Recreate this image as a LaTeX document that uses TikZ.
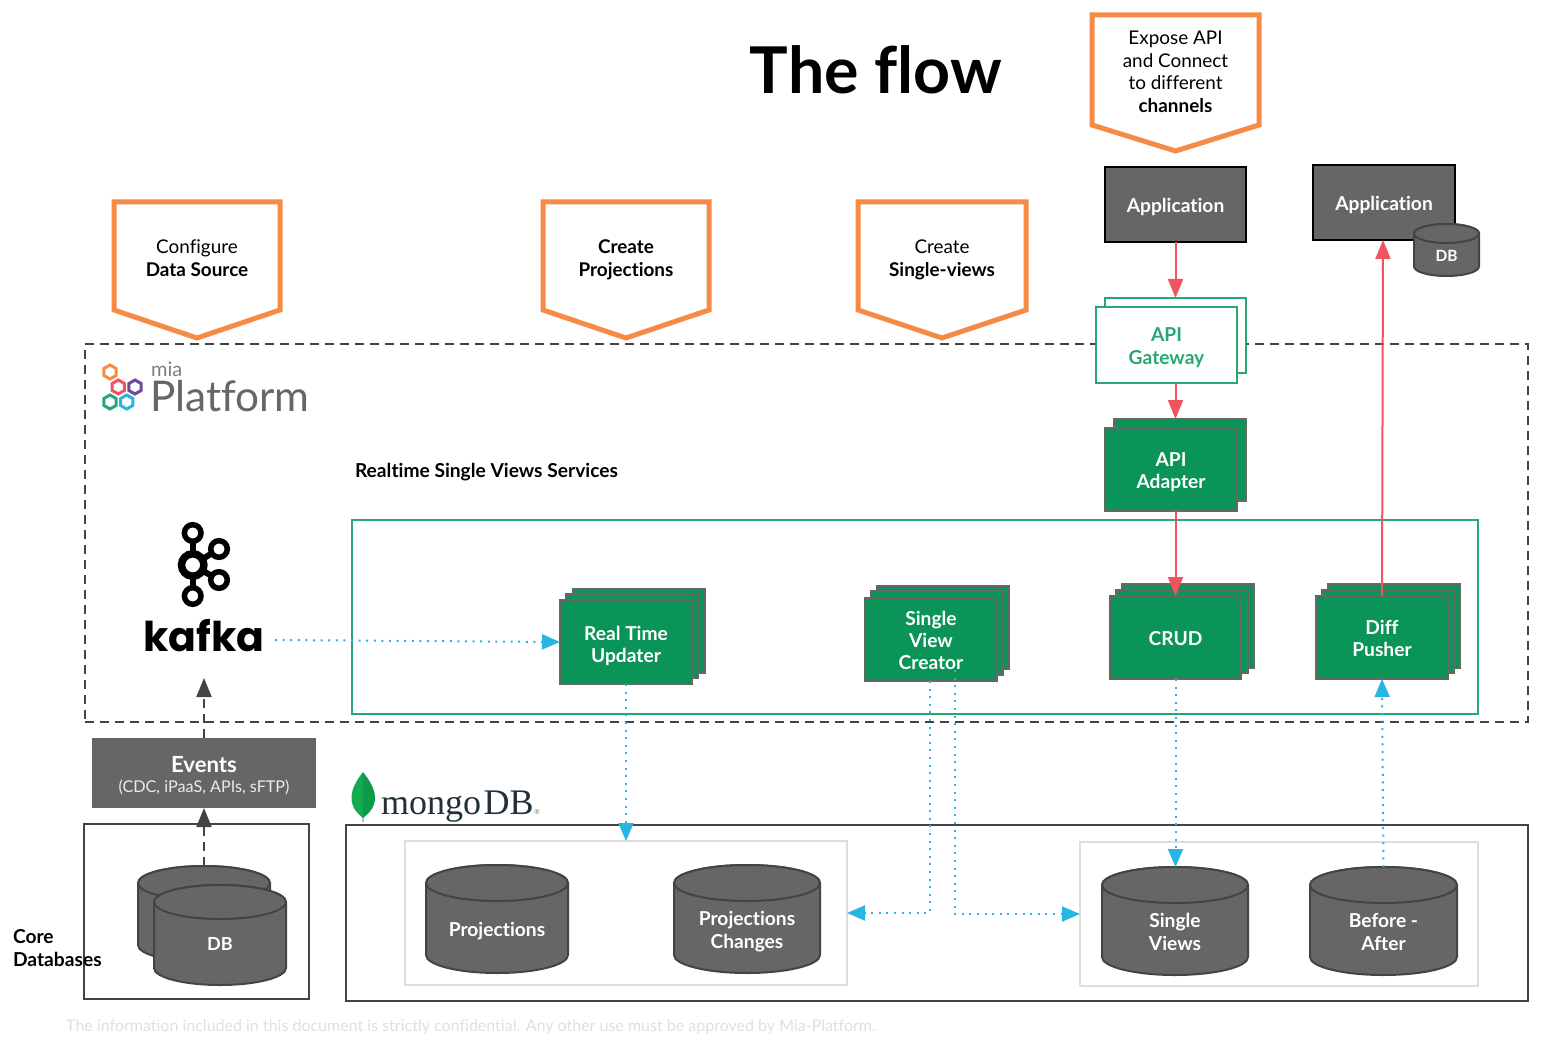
\documentclass[tikz,border=0pt]{standalone}
\usepackage{fontspec}
\setmainfont{Lato}[Ligatures=NoCommon]
\usetikzlibrary{arrows.meta,calc}
\definecolor{orangeC}{HTML}{F68B47}
\definecolor{greyFill}{HTML}{666666}
\definecolor{greyLine}{HTML}{444444}
\definecolor{greenFill}{HTML}{0A9457}
\definecolor{greenLine}{HTML}{27A873}
\definecolor{redC}{HTML}{EF5560}
\definecolor{cyanC}{HTML}{29B5E3}
\definecolor{softLine}{HTML}{DDDDDD}
\definecolor{stackLine}{HTML}{666666}
\definecolor{purpleC}{HTML}{6B4C9A}
\definecolor{leafL}{HTML}{13AA52}
\definecolor{leafD}{HTML}{0F9A49}
\definecolor{mongoC}{HTML}{21313C}
\newcommand{\btf}{\fontsize{19.2}{22.4}\selectfont\bfseries}
\newcommand{\rtf}{\fontsize{18.9}{22.4}\selectfont}
\newcommand{\strutTop}{\rule{0pt}{20pt}}
\newcommand{\strutBot}{\rule[-4pt]{0pt}{4pt}}
\tikzset{
 txt/.style={inner sep=0,outer sep=0,align=center,font=\rtf},
 btxt/.style={txt,font=\btf},
 wtxt/.style={btxt,text=white},
 rbox/.style={inner sep=0,outer sep=0,align=center},
 appbox/.style={rbox,draw=black,line width=2pt,fill=greyFill,text=white,font=\btf},
 green stack/.style={rbox,draw=stackLine,line width=2.4pt,fill=greenFill,text=white,font=\btf},
 gate stack/.style={rbox,draw=greenLine,line width=2pt,fill=white,text=greenLine,font=\btf},
 soft box/.style={rbox,draw=softLine,line width=2pt},
 dark box/.style={rbox,draw=greyLine,line width=2pt},
 cyl/.style={draw=greyLine,line width=2pt,fill=greyFill},
 callout/.style={draw=orangeC,line width=5pt,fill=white,miter limit=10},
 red arrow/.style={draw=redC,line width=2pt,-{Triangle[length=19pt,width=15pt,fill=redC]}},
 cyan arrow/.style={draw=cyanC,line width=2pt,dash pattern=on 2pt off 5.6pt,-{Triangle[length=18pt,width=15pt,fill=cyanC]}},
 dash arrow/.style={draw=greyLine,line width=2.2pt,dash pattern=on 9pt off 6pt,-{Triangle[length=19pt,width=15pt,fill=greyLine]}},
 hexa/.style={line width=3pt,fill=none},
 kafka ring/.style={draw=black,fill=white},
}
% \rnode[style]{name}{x1}{y1}{x2}{y2}{text}
\newcommand{\rnode}[7][]{%
 \pgfmathsetmacro{\rw}{#5-#3}\pgfmathsetmacro{\rh}{#6-#4}%
 \pgfmathsetmacro{\rcx}{(#3+#5)/2}\pgfmathsetmacro{\rcy}{(#4+#6)/2}%
 \node[#1,minimum width=\rw pt,minimum height=\rh pt] (#2) at (\rcx,\rcy) {\strutTop#7\strutBot};}
% \cylnode{name}{x1}{y1}{x2}{y2}{ry}{label y}{text}
\newcommand{\cylnode}[8]{%
 \pgfmathsetmacro{\crx}{(#4-#2)/2}\pgfmathsetmacro{\ctop}{#3+#6}\pgfmathsetmacro{\cbot}{#5-#6}%
 \pgfmathsetmacro{\ccx}{(#2+#4)/2}\pgfmathsetmacro{\ccy}{(#3+#5)/2}\pgfmathsetmacro{\cw}{#4-#2}\pgfmathsetmacro{\ch}{#5-#3}%
 \draw[cyl] (#2,\ctop) -- (#2,\cbot) arc[start angle=180,end angle=360,x radius=\crx pt,y radius=#6 pt] -- (#4,\ctop) arc[start angle=0,end angle=180,x radius=\crx pt,y radius=#6 pt] -- cycle;
 \draw[cyl] (\ccx,\ctop) ellipse[x radius=\crx pt,y radius=#6 pt];
 \node[rbox,minimum width=\cw pt,minimum height=\ch pt] (#1) at (\ccx,\ccy) {};
 \node[wtxt] (#1-label) at (\ccx,#7) {\strutTop#8\strutBot};}
% \calloutnode{name}{x1}{y1}{x2}{side y}{tip y}{text y}{text}
\newcommand{\calloutnode}[8]{%
 \pgfmathsetmacro{\ccx}{(#2+#4)/2}%
 \draw[callout] (#2,#3) -- (#4,#3) -- (#4,#5) -- (\ccx,#6) -- (#2,#5) -- cycle;
 \node[txt] (#1) at (\ccx,#7) {\strutTop#8\strutBot};}
\newcommand{\hexag}[3]{%
 \draw[hexa,draw=#3] (#1,#2-7) -- (#1+6.1,#2-3.5) -- (#1+6.1,#2+3.5) -- (#1,#2+7) -- (#1-6.1,#2+3.5) -- (#1-6.1,#2-3.5) -- cycle;}
\begin{document}
\begin{tikzpicture}[x=1pt,y=-1pt]
\useasboundingbox (0,0) rectangle (1554,1064);
\fill[white] (0,0) rectangle (1554,1064);

% title
\node[inner sep=0,font=\fontsize{64.5}{70}\selectfont\bfseries] (title) at (876,70) {The flow};

% platform frame
\rnode[rbox,draw=greyLine,line width=2.2pt,dash pattern=on 9pt off 6pt]{platform}{85}{344}{1528}{722}{}
\rnode[rbox,draw=greenLine,line width=2pt]{rtsv}{352}{520}{1478}{714}{}

% callouts
\calloutnode{c1}{114}{202}{280}{310}{338}{257}{Configure\\\textbf{Data Source}}
\calloutnode{c2}{543}{202}{709}{310}{338}{257}{\textbf{Create}\\\textbf{Projections}}
\calloutnode{c3}{858}{202}{1026}{310}{338}{257}{Create\\\textbf{Single-views}}
\calloutnode{c4}{1092}{15}{1259}{125}{151}{70.5}{Expose API\\and Connect\\to different\\\textbf{channels}}

% applications
\rnode[appbox]{app1}{1105}{167}{1246}{242}{Application}
\rnode[appbox]{app2}{1313}{165}{1455}{240}{Application}
\cylnode{smalldb}{1414}{224}{1479}{276}{9.5}{254}{\fontsize{15.5}{18}\selectfont DB}

% gateway and adapter
\rnode[gate stack]{gwb}{1105}{298}{1246}{373}{}
\rnode[gate stack]{gw}{1096}{307}{1237}{383}{API\\Gateway}
\rnode[green stack]{adb}{1114}{419}{1246}{501}{}
\rnode[green stack]{ad}{1105}{428}{1237}{511}{API\\Adapter}

% logos
\hexag{110}{372}{orangeC}
\hexag{118.3}{387}{redC}
\hexag{135}{387}{purpleC}
\hexag{110}{402}{greenLine}
\hexag{126.7}{402}{cyanC}
\node[inner sep=0,anchor=base west,text=greyFill!85!white,font=\fontsize{20}{22}\selectfont] (mia) at (151,376) {mia};
\node[inner sep=0,anchor=base west,text=greyFill,font=\fontsize{42.3}{44}\selectfont] (plat) at (150,411) {Platform};

\node[btxt,anchor=west] (rtlabel) at (355,472) {Realtime Single Views Services};

% kafka logo
\draw[black,line width=6pt] (192.7,533) -- (192.7,596);
\draw[black,line width=6pt] (192.7,565) -- (219,549);
\draw[black,line width=6pt] (192.7,565) -- (219,580);
\draw[kafka ring,line width=7.5pt] (192.7,565) circle[radius=11.2pt];
\draw[kafka ring,line width=5.5pt] (192.7,533) circle[radius=8.3pt];
\draw[kafka ring,line width=5.5pt] (192.7,596) circle[radius=8.3pt];
\draw[kafka ring,line width=5.5pt] (219,549) circle[radius=8.3pt];
\draw[kafka ring,line width=5.5pt] (219,580) circle[radius=8.3pt];
\node[inner sep=0,anchor=base,font={\fontspec{Poppins}\fontsize{41}{44}\selectfont\bfseries}] (kafka) at (204,651) {kafka};
\coordinate (kafkaOut) at (275,640);
\coordinate (kafkaIn) at (204,678);

% stacks
\rnode[green stack]{rt3}{573}{589}{705}{673}{}
\rnode[green stack]{rt2}{566}{594}{698}{678}{}
\rnode[green stack]{rt}{560}{600}{692}{684}{\rule{0pt}{23pt}Real Time\\Updater}

\rnode[green stack]{sv3}{877}{586}{1009}{669}{}
\rnode[green stack]{sv2}{871}{591}{1003}{675}{}
\rnode[green stack]{sv}{865}{598}{997}{681}{Single\\View\\Creator}

\rnode[green stack]{cr3}{1122}{584}{1254}{668}{}
\rnode[green stack]{cr2}{1116}{590}{1248}{673}{}
\rnode[green stack]{cr}{1110}{596}{1241}{679}{CRUD}

\rnode[green stack]{df3}{1328}{584}{1460}{668}{}
\rnode[green stack]{df2}{1322}{590}{1454}{673}{}
\rnode[green stack]{df}{1316}{596}{1448}{679}{Diff\\Pusher}

% events
\rnode[rbox,fill=greyFill,text=white]{events}{92}{738}{316}{808}{}
\node[wtxt,font=\fontsize{22.2}{24}\selectfont\bfseries] (evt1) at (204,765) {Events};
\node[txt,text=white!92!black,font=\fontsize{16.2}{18}\selectfont] (evt2) at (204,787.5) {(CDC, iPaaS, APIs, sFTP)};

% core databases
\rnode[dark box]{core}{84}{824}{309}{999}{}
\cylnode{db1}{138}{866}{270}{962}{17}{918}{}
\cylnode{db2}{154}{885}{286}{985}{17}{942}{\fontsize{18}{20}\selectfont DB}
\node[btxt,anchor=west,align=left] (corelabel) at (13,948) {Core\\Databases};

% mongodb
\fill[black!25] (362,805) rectangle (364.2,822);
\fill[leafL] (363,772) .. controls (356,781) and (351.5,789) .. (351.5,798) .. controls (351.5,808) and (358,814) .. (363,818) -- cycle;
\fill[leafD] (363,772) .. controls (370,781) and (375,789) .. (375,798) .. controls (375,808) and (368,814) .. (363,818) -- cycle;
\node[inner sep=0,anchor=base west,text=mongoC,font={\fontspec{Liberation Serif}\fontsize{36}{38}\selectfont}] (mongo) at (381,814) {mongo\hspace{2.5pt}DB};
\node[inner sep=0,anchor=base west,text=gray,font=\fontsize{7}{8}\selectfont] (mongoR) at (mongo.base east) {®};

\rnode[dark box]{mongobox}{346}{825}{1528}{1001}{}
\rnode[soft box]{pgroup}{405}{841}{847}{985}{}
\rnode[soft box]{sgroup}{1080}{842}{1478}{986}{}
\cylnode{proj}{426}{865}{568}{973}{18}{928}{Projections}
\cylnode{pch}{674}{865}{820}{973}{18}{929}{Projections\\Changes}
\cylnode{views}{1102}{867}{1248}{975}{18}{931}{Single\\Views}
\cylnode{ba}{1310}{867}{1457}{975}{18}{931}{Before -\\After}

% footer
\node[inner sep=0,anchor=west,text=black!12,font=\fontsize{16}{18}\selectfont] (foot) at (66,1027) {The information included in this document is strictly confidential. Any other use must be approved by Mia-Platform.};

% connectors
\draw[red arrow] (app1.south) -- (gwb.north);
\draw[red arrow] (gw.south -| app1.south) -- (adb.north -| app1.south);
\draw[red arrow] (ad.south -| app1.south) -- (cr.north);
\draw[red arrow] (df.north) -- ([xshift=-1pt]app2.south);

\draw[cyan arrow] (kafkaOut) -- (rt.west);
\draw[cyan arrow] (rt.south) -- (rt.south |- pgroup.north);
\draw[cyan arrow] (cr.south) -- (views.north -| cr.south);
\draw[cyan arrow] (ba.north) -- (df.south);
\draw[cyan arrow] ([xshift=-1pt]sv.south) |- (pgroup.east);
\coordinate (svOut) at (955,670);
\draw[cyan arrow] (svOut) |- (sgroup.west);

\draw[dash arrow] (events.north) -- (kafkaIn);
\draw[dash arrow] (db1.north) -- (events.south);
\end{tikzpicture}
\end{document}
